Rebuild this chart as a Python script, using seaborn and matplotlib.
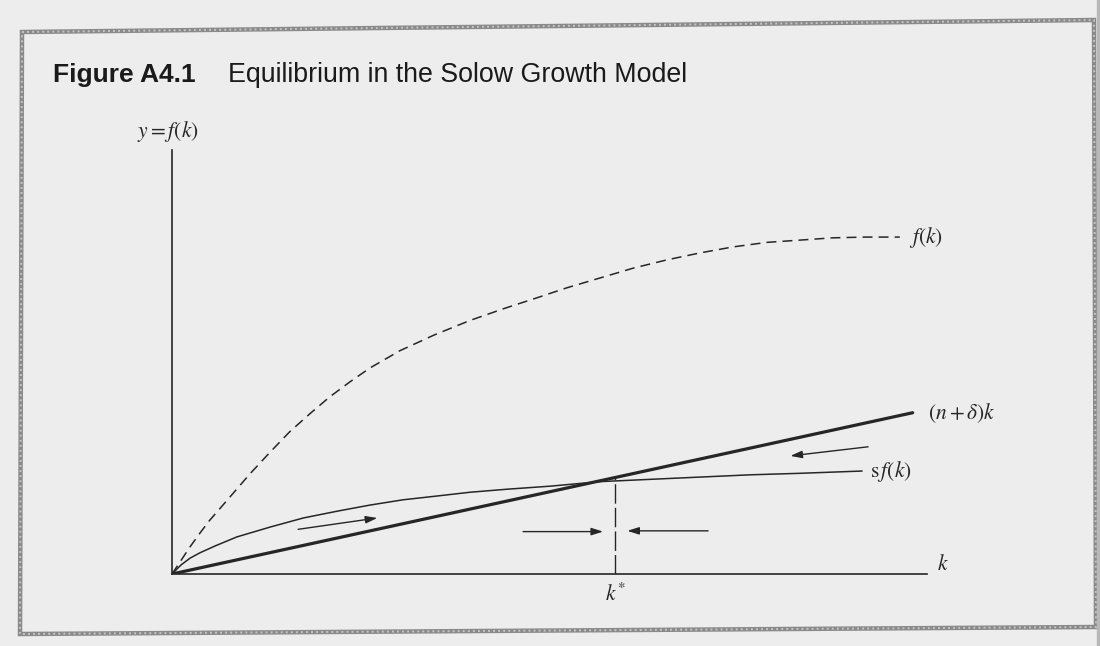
import seaborn as sns
import matplotlib.pyplot as plt
from matplotlib.patches import Polygon, Rectangle

# values (k on the x axis, output per worker on y)
k_f = [0.00, 0.12, 0.24, 0.37, 0.50, 0.77, 1.03, 1.30, 1.56, 1.83, 2.09, 2.36, 2.62,
       3.02, 3.48, 3.95, 4.41, 4.81, 5.23, 5.67, 6.11, 6.56, 6.99, 7.43, 7.88, 8.32,
       8.75, 9.19, 9.64]
y_f = [0.00, 0.18, 0.36, 0.54, 0.71, 1.02, 1.32, 1.61, 1.88, 2.12, 2.34, 2.54, 2.72,
       2.95, 3.16, 3.35, 3.51, 3.64, 3.78, 3.91, 4.04, 4.15, 4.24, 4.32, 4.38, 4.41,
       4.44, 4.45, 4.45]

k_sf = [0.00, 0.12, 0.24, 0.37, 0.57, 0.86, 1.30, 1.74, 2.19, 2.62, 3.06, 3.51, 3.95,
        4.44, 5.01, 5.67, 6.33, 6.99, 7.66, 8.32, 9.14]
y_sf = [0.00, 0.12, 0.21, 0.28, 0.37, 0.49, 0.62, 0.74, 0.83, 0.91, 0.98, 1.03, 1.08,
        1.12, 1.16, 1.22, 1.25, 1.28, 1.31, 1.33, 1.36]

k_dep = [0.00, 9.81]
y_dep = [0.00, 2.13]

k_star = 5.87

# (k from, y from, k to, y to)
arrows = [
    (1.67, 0.59, 2.72, 0.74),
    (4.65, 0.56, 5.71, 0.56),
    (7.10, 0.57, 6.03, 0.57),
    (9.22, 1.68, 8.19, 1.56),
]

ink = '#262626'
paper = '#ededed'

sns.set_style("white")
plt.rcParams['font.family'] = ['Liberation Sans', 'DejaVu Sans']
plt.rcParams['mathtext.fontset'] = 'stix'

W, H = 1100, 646
fig = plt.figure(figsize=(W / 100, H / 100), dpi=100, facecolor=paper)

# scanned page frame, slightly skewed like the scan
corners = [(22, 32), (1094, 20), (1096, 627), (20, 634)]
frame = [(x / W, 1 - y / H) for x, y in corners]
fig.patches.append(Polygon(frame, closed=True, fill=False, edgecolor='#8a8a8a',
                           lw=3.2, transform=fig.transFigure))
fig.patches.append(Polygon(frame, closed=True, fill=False, edgecolor='#c4c4c4',
                           lw=1.4, ls=(0, (1, 1.6)), transform=fig.transFigure))
fig.patches.append(Rectangle((1097 / W, 0), 3 / W, 1, color='#b8b8b8',
                             transform=fig.transFigure))

ax = fig.add_axes([172 / W, 72 / H, 755 / W, 424 / H])
ax.patch.set_alpha(0)

sns.lineplot(x=k_f, y=y_f, ax=ax, color=ink, lw=1.1, linestyle=(0, (6.5, 4)),
             estimator=None, sort=False)
sns.lineplot(x=k_sf, y=y_sf, ax=ax, color=ink, lw=1.1, estimator=None, sort=False)
sns.lineplot(x=k_dep, y=y_dep, ax=ax, color=ink, lw=2.3, estimator=None, sort=False)

y_star = y_dep[1] / k_dep[1] * k_star
ax.plot([k_star, k_star], [0, y_star], color=ink, lw=1.0, ls=(0, (14, 3)))

for k0, y0, k1, y1 in arrows:
    ax.annotate('', xy=(k1, y1), xytext=(k0, y0),
                arrowprops=dict(arrowstyle='-|>,head_length=0.7,head_width=0.22',
                                color=ink, lw=1.0, shrinkA=0, shrinkB=0,
                                mutation_scale=10))

ax.set_xlim(0, 10)
ax.set_ylim(0, 5.6)
ax.set_xticks([])
ax.set_yticks([])
ax.set_xlabel('')
ax.set_ylabel('')
for side in ['top', 'right']:
    ax.spines[side].set_visible(False)
for side in ['left', 'bottom']:
    ax.spines[side].set_color(ink)
    ax.spines[side].set_linewidth(1.2)

lab = dict(color=ink, fontsize=15.5, clip_on=False)
ax.text(-0.05, 5.84, r'$y = f(k)$', ha='center', va='center', **lab)
ax.text(k_f[-1] + 0.12, y_f[-1], r'$f(k)$', ha='left', va='center', **lab)
ax.text(k_dep[1] + 0.2, y_dep[1], r'$(n + \delta)k$', ha='left', va='center', **lab)
ax.text(k_sf[-1] + 0.1, y_sf[-1], r'$\mathrm{s}\,f(k)$', ha='left', va='center', **lab)
ax.text(10.13, 0.12, r'$k$', ha='left', va='center', **lab)
ax.text(k_star, -0.27, r'$k^{*}$', ha='center', va='center', **lab)

fig.text(53 / W, 1 - 82 / H, 'Figure A4.1', fontsize=19, fontweight='bold',
         color='#1a1a1a', va='baseline')
fig.text(228 / W, 1 - 82 / H, 'Equilibrium in the Solow Growth Model', fontsize=19.3,
         color='#1a1a1a', va='baseline')

fig.savefig('out.png', dpi=100, facecolor=paper)
